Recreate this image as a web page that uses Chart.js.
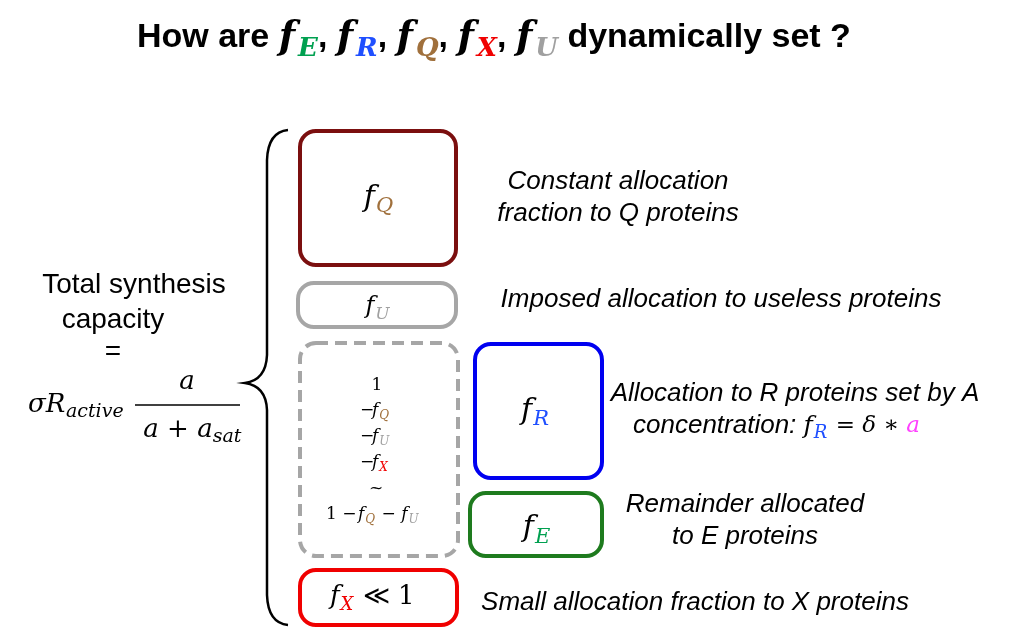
<!DOCTYPE html>
<html><head><meta charset="utf-8">
<script src="https://cdn.jsdelivr.net/npm/chart.js@4"></script>
<style>html,body{margin:0;background:#fff}#wrap{width:1026px;height:635px}</style>
</head><body><div id="wrap"><canvas id="c"></canvas></div>
<script>
// boxes of the diagram, in diagram units (0..1026 x 0..635)
const boxNames = ['Q', 'U', 'rest', 'R', 'E', 'X']
const boxLeft = [300, 298, 300, 475, 470, 300]
const boxTop = [131, 283, 343, 344, 493, 570]
const boxRight = [456, 456, 458, 602, 602, 457]
const boxBottom = [265, 327, 556, 478, 556, 625]
const boxColors = ['#7b0f0f', '#a6a6a6', '#a6a6a6', '#0000f0', '#1e7b1e', '#f00000']
const labels = [
	'Constant allocation|fraction to Q proteins',
	'Imposed allocation to useless proteins',
	'',
	'Allocation to R proteins set by A|concentration: ',
	'Remainder allocated|to E proteins',
	'Small allocation fraction to X proteins'
]
const subColors = {E: '#00a050', R: '#1f4fff', Q: '#a0703c', X: '#f00000', U: '#a0a0a0'}

const F = 'Liberation Sans, Arial, sans-serif'
const M = 'DejaVu Serif, serif'

function fsym(ctx, x, y, s, size, align) {
	ctx.font = 'italic ' + size + 'px ' + M
	const w1 = ctx.measureText('f').width
	ctx.font = 'italic ' + Math.round(size * 0.7) + 'px ' + M
	const w2 = ctx.measureText(s).width
	let x0 = align === 'center' ? x - (w1 + w2) / 2 : x
	ctx.textAlign = 'left'
	ctx.fillStyle = '#000'
	ctx.font = 'italic ' + size + 'px ' + M
	ctx.fillText('f', x0, y)
	ctx.fillStyle = subColors[s]
	ctx.font = 'italic ' + Math.round(size * 0.7) + 'px ' + M
	ctx.fillText(s, x0 + w1 + 1, y + size * 0.3)
	return x0 + w1 + w2 + 2
}

function rrect(ctx, x, y, w, h, r) {
	ctx.beginPath()
	ctx.roundRect(x, y, w, h, r)
	ctx.stroke()
}

const diagram = {
	id: 'diagram',
	afterDraw(chart) {
		const ctx = chart.ctx
		const X = v => chart.scales.x.getPixelForValue(v)
		const Y = v => chart.scales.y.getPixelForValue(v)
		ctx.save()
		ctx.textBaseline = 'middle'
		// title
		ctx.fillStyle = '#000'
		ctx.font = 'bold 34px ' + F
		ctx.textAlign = 'left'
		let tx = X(137)
		ctx.fillText('How are ', tx, Y(38))
		tx += ctx.measureText('How are ').width
		;['E', 'R', 'Q', 'X', 'U'].forEach((s, i) => {
			ctx.font = 'bold italic 38px ' + M
			ctx.fillStyle = '#000'
			ctx.fillText('f', tx, Y(38))
			tx += ctx.measureText('f').width + 3
			ctx.fillStyle = subColors[s]
			ctx.font = 'bold italic 26px ' + M
			ctx.fillText(s, tx, Y(49))
			tx += ctx.measureText(s).width
			ctx.fillStyle = '#000'
			ctx.font = 'bold 34px ' + F
			const sep = i < 4 ? ', ' : ' dynamically set ?'
			ctx.fillText(sep, tx, Y(38))
			tx += ctx.measureText(sep).width
		})
		// left text
		ctx.textAlign = 'center'
		ctx.font = '28px ' + F
		ctx.fillText('Total synthesis', X(134), Y(285))
		ctx.fillText('capacity', X(113), Y(320))
		ctx.fillText('=', X(113), Y(352))
		ctx.font = 'italic 26px ' + M
		ctx.textAlign = 'left'
		ctx.fillText('σR', X(28), Y(405))
		ctx.font = 'italic 19px ' + M
		ctx.fillText('active', X(66), Y(412))
		ctx.font = 'italic 26px ' + M
		ctx.textAlign = 'center'
		ctx.fillText('a', X(187), Y(382))
		ctx.fillText('a + a', X(178), Y(430))
		ctx.font = 'italic 19px ' + M
		ctx.fillText('sat', X(227), Y(437))
		ctx.lineWidth = 1.5
		ctx.strokeStyle = '#000'
		ctx.beginPath(); ctx.moveTo(X(135), Y(405)); ctx.lineTo(X(240), Y(405)); ctx.stroke()
		// brace
		ctx.lineWidth = 2.5
		ctx.beginPath()
		ctx.moveTo(X(288), Y(130))
		ctx.quadraticCurveTo(X(268), Y(132), X(267), Y(160))
		ctx.lineTo(X(267), Y(355))
		ctx.quadraticCurveTo(X(266), Y(380), X(245), Y(383))
		ctx.quadraticCurveTo(X(266), Y(386), X(267), Y(410))
		ctx.lineTo(X(267), Y(595))
		ctx.quadraticCurveTo(X(268), Y(623), X(288), Y(625))
		ctx.stroke()
		// boxes
		boxNames.forEach((n, i) => {
			ctx.strokeStyle = boxColors[i]
			ctx.lineWidth = 4
			ctx.setLineDash(n === 'rest' ? [12, 7] : [])
			rrect(ctx, X(boxLeft[i]), Y(boxTop[i]), X(boxRight[i]) - X(boxLeft[i]), Y(boxBottom[i]) - Y(boxTop[i]), 16)
		})
		ctx.setLineDash([])
		const cx = i => X((boxLeft[i] + boxRight[i]) / 2)
		const cy = i => Y((boxTop[i] + boxBottom[i]) / 2)
		fsym(ctx, cx(0), cy(0), 'Q', 30, 'center')
		fsym(ctx, cx(1), cy(1) + 2, 'U', 24, 'center')
		fsym(ctx, cx(3) - 4, cy(3), 'R', 30, 'center')
		fsym(ctx, cx(4), cy(4) + 4, 'E', 30, 'center')
		let ex = fsym(ctx, X(330), cy(5), 'X', 26, 'left')
		ctx.fillStyle = '#000'
		ctx.font = '26px ' + M
		ctx.fillText(' ≪ 1', ex, cy(5))
		// dashed box contents
		ctx.font = '17px ' + M
		ctx.textAlign = 'center'
		ctx.fillText('1', X(377), Y(386))
		;['Q', 'U', 'X'].forEach((s, k) => {
			const yy = Y(411 + k * 26)
			ctx.fillStyle = '#000'; ctx.font = '17px ' + M; ctx.textAlign = 'left'
			ctx.fillText('−', X(360), yy)
			fsym(ctx, X(372), yy, s, 17, 'left')
		})
		ctx.fillStyle = '#000'; ctx.font = '17px ' + M; ctx.textAlign = 'center'
		ctx.fillText('~', X(376), Y(489))
		ctx.textAlign = 'left'
		ctx.fillText('1 − ', X(326), Y(515))
		let px = fsym(ctx, X(358), Y(515), 'Q', 17, 'left')
		ctx.fillStyle = '#000'; ctx.font = '17px ' + M
		ctx.fillText(' − ', px, Y(515))
		fsym(ctx, px + ctx.measureText(' − ').width, Y(515), 'U', 17, 'left')
		// descriptions
		const descX = [618, 721, 0, 795, 745, 695]
		const descY = [182, 300, 0, 394, 505, 603]
		labels.forEach((t, i) => {
			if (!t) return
			const lines = t.split('|')
			lines.forEach((l, k) => {
				ctx.fillStyle = '#000'
				ctx.font = 'italic 26px ' + F
				ctx.textAlign = 'center'
				const yy = Y(descY[i] + k * 32)
				if (i === 3 && k === 1) {
					const w = ctx.measureText(l).width
					const x0 = X(633)
					ctx.textAlign = 'left'
					ctx.fillText(l, x0, yy)
					let e = fsym(ctx, x0 + w, yy, 'R', 25, 'left')
					ctx.fillStyle = '#000'; ctx.font = 'italic 23px ' + M
					ctx.fillText(' = δ ∗ ', e, yy)
					e += ctx.measureText(' = δ ∗ ').width
					ctx.fillStyle = '#ff40ff'
					ctx.fillText('a', e, yy)
				} else {
					ctx.fillText(l, X(descX[i]), yy)
				}
			})
		})
		ctx.restore()
	}
}

new Chart(document.getElementById('c'), {
	type: 'scatter',
	data: {datasets: [{data: [], pointRadius: 0}]},
	options: {
		responsive: true, maintainAspectRatio: false, animation: false,
		layout: {padding: 0},
		plugins: {legend: {display: false}, tooltip: {enabled: false}},
		scales: {
			x: {type: 'linear', min: 0, max: 1026, display: false},
			y: {type: 'linear', min: 0, max: 635, reverse: true, display: false}
		}
	},
	plugins: [diagram]
})
</script></body></html>
